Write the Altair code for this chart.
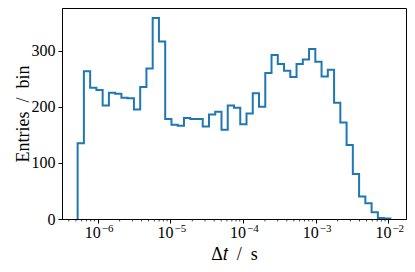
import altair as alt
import numpy as np
import pandas as pd

# histogram counts per bin (50 log-spaced bins)
counts = [135, 263, 234, 230, 202, 225, 223, 216, 215, 195,
          235, 268, 358, 316, 178, 168, 166, 180, 178, 178,
          165, 186, 191, 159, 202, 198, 169, 188, 224, 200,
          260, 292, 276, 264, 253, 276, 284, 303, 280, 254,
          266, 207, 172, 132, 80, 40, 28, 12, 2, 1]
log_lo, log_hi = -6.277, -1.973
major_exps = [-6, -5, -4, -3, -2]
y_ticks = [0, 100, 200, 300]

edges = np.logspace(log_lo, log_hi, len(counts) + 1)
xs = [edges[0], edges[0]] + list(edges[1:])
ys = [0] + counts + [0]
df = pd.DataFrame({"x": xs, "y": ys, "o": list(range(len(xs)))})

span = log_hi - log_lo
dmin, dmax = 10 ** (log_lo - 0.05 * span), 10 ** (log_hi + 0.05 * span)
ymax = max(counts) * 1.05

major = [10.0 ** e for e in major_exps]
minor = [m * 10.0 ** e for e in range(-7, -1) for m in range(2, 10)
         if dmin <= m * 10.0 ** e <= dmax]
lab_df = pd.DataFrame({"x": major,
                       "base": ["10"] * len(major),
                       "exp": [("−%d" % -e) if e < 0 else str(e) for e in major_exps]})

FONT = "Liberation Serif"
W, H = 344, 211

xscale = alt.Scale(type="log", domain=[dmin, dmax], nice=False)
yscale = alt.Scale(domain=[0, ymax], nice=False)

hist = alt.Chart(df).mark_line(
    interpolate="step-after", color="#1f77b4", strokeWidth=2, clip=True
).encode(
    x=alt.X("x:Q", scale=xscale,
            axis=alt.Axis(values=major, labels=False, title="Δ𝑡 \u00a0/ \u00a0s",
                          tickSize=4, tickColor="black", domainColor="black",
                          titlePadding=22, grid=False)),
    y=alt.Y("y:Q", scale=yscale,
            axis=alt.Axis(values=y_ticks, title="Entries \u00a0/ \u00a0bin", tickSize=4,
                          tickColor="black", domainColor="black",
                          labelPadding=3, titlePadding=-1, grid=False)),
    order="o:Q",
)

minor_df = pd.DataFrame({"x": minor})
minor_ticks = alt.Chart(minor_df).mark_rule(color="black", strokeWidth=0.7).encode(
    x=alt.X("x:Q", scale=xscale),
    y=alt.value(H),
    y2=alt.value(H + 2.5),
)

base_lab = alt.Chart(lab_df).mark_text(
    font=FONT, fontSize=16, align="right", baseline="alphabetic", dx=3, color="black"
).encode(x=alt.X("x:Q", scale=xscale), y=alt.value(H + 19), text="base:N")

exp_lab = alt.Chart(lab_df).mark_text(
    font=FONT, fontSize=11, align="left", baseline="alphabetic", dx=4, color="black"
).encode(x=alt.X("x:Q", scale=xscale), y=alt.value(H + 13), text="exp:N")

chart = alt.layer(hist, minor_ticks, base_lab, exp_lab).properties(
    width=W, height=H,
    autosize=alt.AutoSizeParams(type="none"),
    padding={"left": 54, "top": 0, "right": 1, "bottom": 45},
).configure_view(
    stroke="black", strokeWidth=1
).configure_axis(
    labelFont=FONT, titleFont=FONT, labelFontSize=16, titleFontSize=18,
    labelColor="black", titleColor="black", titleFontWeight="normal",
    domainWidth=1, tickWidth=1,
)

chart.save("out.html", embed_options={"renderer": "svg", "actions": False})
